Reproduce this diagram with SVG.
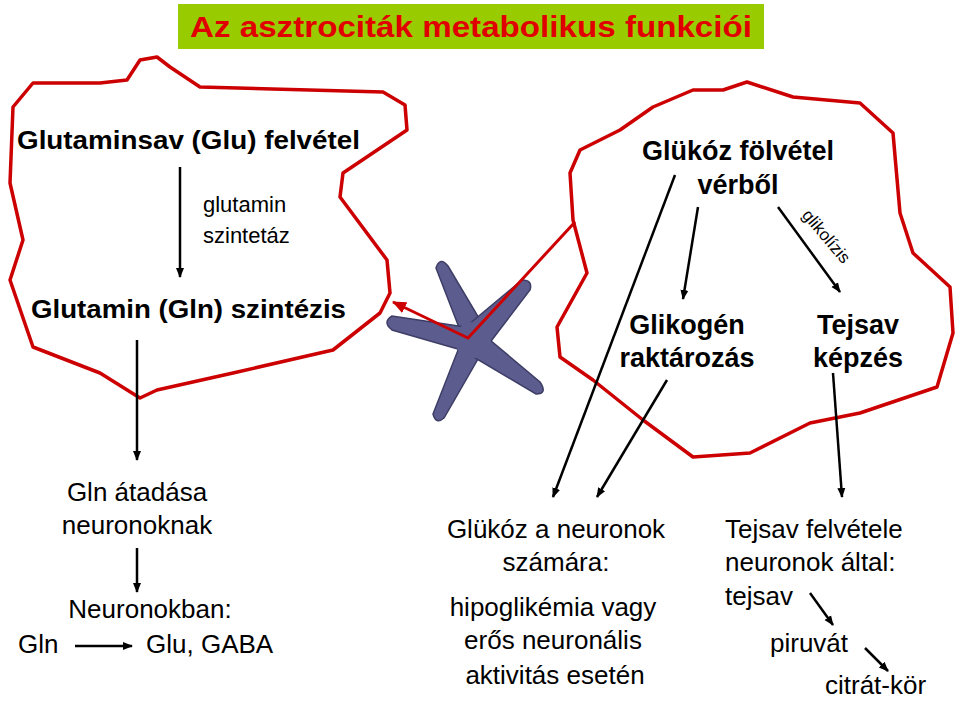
<svg xmlns="http://www.w3.org/2000/svg" width="959" height="702" viewBox="0 0 959 702">
<defs>
<marker id="ah" markerWidth="10" markerHeight="10" refX="9" refY="5" orient="auto" markerUnits="userSpaceOnUse"><path d="M0,1 L10,5 L0,9 z" fill="#000"/></marker>
<marker id="rh" markerWidth="14" markerHeight="12" refX="13" refY="6" orient="auto" markerUnits="userSpaceOnUse"><path d="M0,0 L14,6 L0,12 z" fill="#cc0000"/></marker>
</defs>
<style>
.b{font-family:"Liberation Sans",Arial,sans-serif;font-weight:bold;font-size:26px;fill:#000}
.n{font-family:"Liberation Sans",Arial,sans-serif;font-size:26px;fill:#000}
.m{text-anchor:middle}
.cell{fill:none;stroke:#cc0000;stroke-width:3.5;stroke-linejoin:round}
.ar{stroke:#000;stroke-width:2.5;fill:none;marker-end:url(#ah)}
.arm{fill:#5c5c8e;stroke:#3d3d66;stroke-width:1.5}
</style>
<rect width="959" height="702" fill="#fff"/>
<g id="title"><rect x="178" y="4" width="586" height="45" fill="#99cc00"/><text x="471" y="37" class="b m" style="fill:#e00000;font-size:30px" textLength="562" lengthAdjust="spacingAndGlyphs">Az asztrociták metabolikus funkciói</text></g>
<g id="cell-left"><path class="cell" d="M33,83 L100,83 L127,80 L140,60 L157,57 L170,67 L200,87 L383,92 L405,105 L407,130 L343,173 L340,197 L387,260 L390,293 L380,313 L333,350 L233,373 L157,390 L140,398 L100,373 L33,347 L10,280 L23,240 L10,183 L13,107 Z"/>
<text x="17" y="149" class="b" textLength="343" lengthAdjust="spacingAndGlyphs">Glutaminsav (Glu) felvétel</text>
<text x="203" y="212" class="n" style="font-size:22px">glutamin</text><text x="203" y="243" class="n" style="font-size:22px">szintetáz</text>
<text x="31" y="318" class="b" textLength="315" lengthAdjust="spacingAndGlyphs">Glutamin (Gln) szintézis</text></g>
<g id="cell-right"><path class="cell" d="M693,90 L723,90 L747,82 L793,97 L860,103 L893,133 L900,213 L913,253 L950,287 L953,333 L937,387 L860,413 L810,423 L750,453 L693,457 L643,420 L593,380 L560,357 L557,327 L587,273 L573,220 L570,173 L580,150 L620,130 L653,107 Z"/>
<text x="738" y="160" class="b m" style="font-size:27px">Glükóz fölvétel</text><text x="738" y="194" class="b m" style="font-size:27px">vérből</text>
<text x="687" y="334" class="b m" style="font-size:27px">Glikogén</text><text x="687" y="367" class="b m" style="font-size:27px">raktározás</text>
<text x="858" y="334" class="b m" style="font-size:27px">Tejsav</text><text x="858" y="367" class="b m" style="font-size:27px">képzés</text>
<text transform="translate(822,240) rotate(50)" class="n m" style="font-size:17px">glikolízis</text></g>
<g id="star">
<path class="arm" d="M460,330 L436,268 Q440,256 448,266 L486,330 Z"/>
<path class="arm" d="M468,325 L522,280 Q533,280 530,290 L488,345 Z"/>
<path class="arm" d="M465,327 L392,316 Q382,322 392,330 L468,352 Z"/>
<path class="arm" d="M462,340 L433,414 Q436,425 444,418 L486,345 Z"/>
<path class="arm" d="M478,330 L540,382 Q548,394 536,394 L470,355 Z"/>
<circle cx="473" cy="340" r="18" fill="#5c5c8e"/></g>
<g id="bottom-left"><text x="137" y="501" class="n m">Gln átadása</text><text x="137" y="534" class="n m">neuronoknak</text><text x="150" y="618" class="n m">Neuronokban:</text><text x="18" y="653" class="n">Gln</text><text x="146" y="653" class="n">Glu, GABA</text></g>
<g id="bottom-mid"><text x="556" y="538" class="n m">Glükóz a neuronok</text><text x="556" y="571" class="n m">számára:</text><text x="553" y="616" class="n m">hipoglikémia vagy</text><text x="553" y="649" class="n m">erős neuronális</text><text x="555" y="684" class="n m">aktivitás esetén</text></g>
<g id="bottom-right"><text x="725" y="538" class="n">Tejsav felvétele</text><text x="725" y="571" class="n">neuronok által:</text><text x="725" y="605" class="n">tejsav</text><text x="770" y="652" class="n">piruvát</text><text x="825" y="694" class="n">citrát-kör</text></g>
<g id="connectors">
<line class="ar" x1="180" y1="167" x2="180" y2="277"/>
<line class="ar" x1="137" y1="340" x2="137" y2="460"/>
<line class="ar" x1="137" y1="548" x2="137" y2="592"/>
<line class="ar" x1="75" y1="646" x2="132" y2="646"/>
<line class="ar" x1="675" y1="175" x2="553" y2="497"/>
<line class="ar" x1="698" y1="207" x2="683" y2="299"/>
<line class="ar" x1="778" y1="207" x2="840" y2="292"/>
<line class="ar" x1="667" y1="380" x2="597" y2="497"/>
<line class="ar" x1="833" y1="373" x2="842" y2="497"/>
<line class="ar" x1="810" y1="593" x2="833" y2="625"/>
<line class="ar" x1="865" y1="648" x2="888" y2="671"/>
<polyline points="575,222 468,338 393,302" fill="none" stroke="#cc0000" stroke-width="3" marker-end="url(#rh)"/>
</g>
</svg>
